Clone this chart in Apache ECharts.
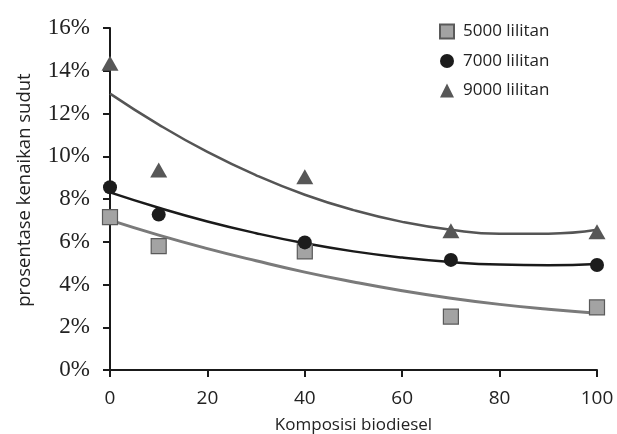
<!DOCTYPE html>
<html><head><meta charset="utf-8">
<script src="https://cdn.jsdelivr.net/npm/echarts@6/dist/echarts.min.js"></script>
<style>html,body{margin:0;padding:0;background:#fff}#c{width:617px;height:434px}</style>
</head><body><div id="c"></div>
<script>
const xValues = [0, 10, 40, 70, 100];
const s5000 = [7.15, 5.8, 5.55, 2.5, 2.93];
const s7000 = [8.55, 7.27, 5.97, 5.15, 4.91];
const s9000 = [14.35, 9.36, 9.04, 6.52, 6.47];
const trendX = [0, 10, 20, 30, 40, 50, 60, 70, 80, 90, 100];
const t5000 = [7.01, 6.31, 5.68, 5.11, 4.58, 4.12, 3.71, 3.36, 3.07, 2.84, 2.66];
const t7000 = [8.31, 7.59, 6.95, 6.40, 5.93, 5.55, 5.26, 5.05, 4.93, 4.90, 4.96];
const t9000 = [12.93, 11.48, 10.20, 9.11, 8.20, 7.48, 6.93, 6.56, 6.38, 6.38, 6.56];
const yTicks = [0, 2, 4, 6, 8, 10, 12, 14, 16];
const names = ['5000 lilitan', '7000 lilitan', '9000 lilitan'];

const pair = (xs, ys) => xs.map((x, i) => [x, ys[i]]);
const chart = echarts.init(document.getElementById('c'));
chart.setOption({
  animation: false,
  backgroundColor: '#fff',
  grid: { left: 110, right: 20, top: 28, bottom: 64, containLabel: false, outerBoundsMode: 'none' },
  legend: {
    orient: 'vertical', left: 439, top: 23, padding: 0, itemGap: 12.5, itemWidth: 14, itemHeight: 14,
    data: names,
    textStyle: { fontFamily: 'Open Sans', fontSize: 17, color: '#222', padding: [0, 0, 0, 4] }
  },
  xAxis: {
    type: 'value', min: 0, max: 100, interval: 20,
    name: 'Komposisi biodiesel', nameLocation: 'middle', nameGap: 47,
    nameTextStyle: { fontFamily: 'Open Sans', fontSize: 17, color: '#222' },
    axisLine: { lineStyle: { color: '#1a1a1a', width: 2 } },
    axisTick: { show: true, inside: false, length: 7, lineStyle: { color: '#1a1a1a', width: 2 } },
    axisLabel: { fontFamily: 'Open Sans', fontSize: 19, color: '#222', margin: 19 },
    splitLine: { show: false }
  },
  yAxis: {
    type: 'value', min: yTicks[0], max: yTicks[yTicks.length - 1], interval: 2,
    name: 'prosentase kenaikan sudut', nameLocation: 'middle', nameGap: 76,
    nameTextStyle: { fontFamily: 'Open Sans', fontSize: 18.5, color: '#222', padding: [0, 0, 0, 18] },
    axisLine: { show: true, lineStyle: { color: '#1a1a1a', width: 2 } },
    axisTick: { show: true, inside: false, length: 7, lineStyle: { color: '#1a1a1a', width: 2 } },
    axisLabel: { fontFamily: 'Liberation Serif', fontSize: 23, color: '#222', margin: 20, formatter: '{value}%' },
    splitLine: { show: false }
  },
  series: [
    { name: 'trend5000', type: 'line', smooth: true, symbol: 'none', data: pair(trendX, t5000),
      lineStyle: { color: '#7a7a7a', width: 3 }, z: 1, silent: true },
    { name: 'trend7000', type: 'line', smooth: true, symbol: 'none', data: pair(trendX, t7000),
      lineStyle: { color: '#1a1a1a', width: 2.5 }, z: 1, silent: true },
    { name: 'trend9000', type: 'line', smooth: true, symbol: 'none', data: pair(trendX, t9000),
      lineStyle: { color: '#555555', width: 2.5 }, z: 1, silent: true },
    { name: names[0], type: 'scatter', symbol: 'rect', symbolSize: 15, data: pair(xValues, s5000),
      itemStyle: { color: '#a3a3a3', borderColor: '#5a5a5a', borderWidth: 1.2, opacity: 1 }, z: 3 },
    { name: names[1], type: 'scatter', symbol: 'circle', symbolSize: 14, data: pair(xValues, s7000),
      itemStyle: { color: '#1c1c1c', opacity: 1 }, z: 3 },
    { name: names[2], type: 'scatter', symbol: 'triangle', symbolSize: [17, 15], data: pair(xValues, s9000),
      itemStyle: { color: '#575757', opacity: 1 }, z: 3 }
  ]
});
</script></body></html>
